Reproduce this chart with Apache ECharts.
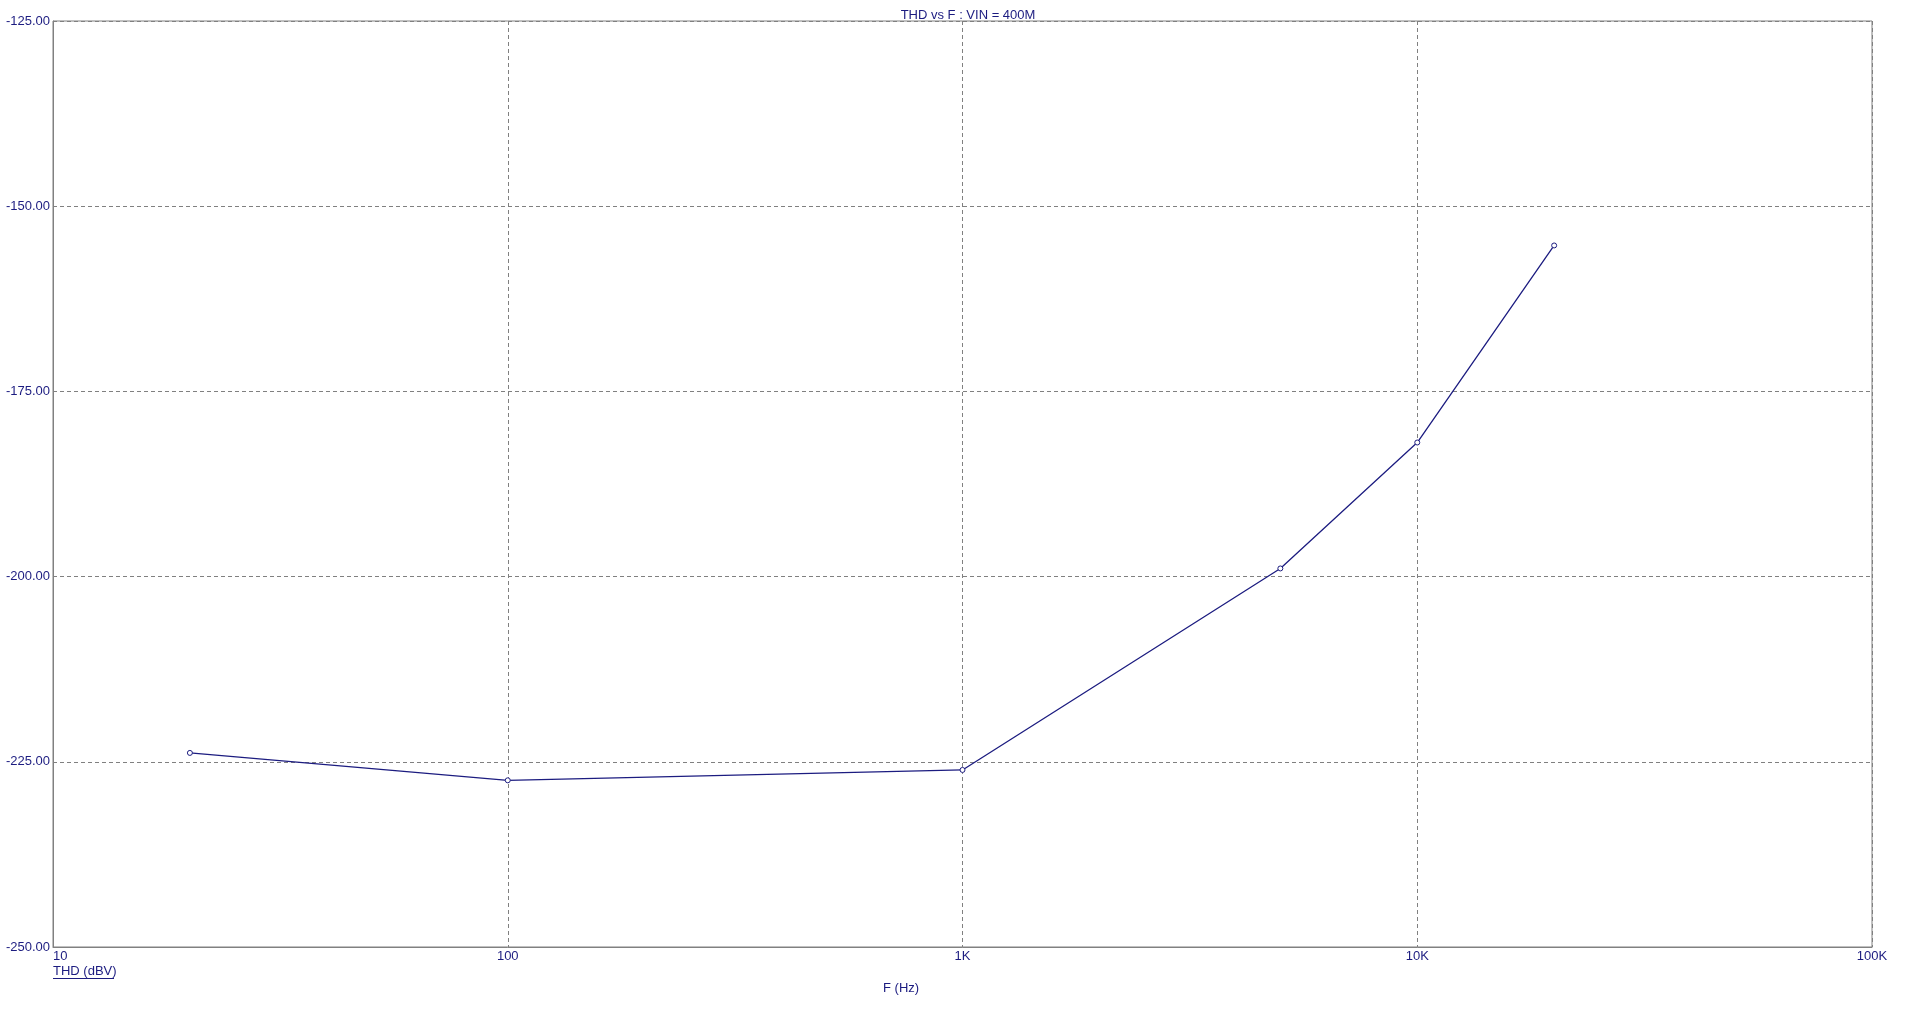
<!DOCTYPE html>
<html>
<head>
<meta charset="utf-8">
<script src="https://cdn.jsdelivr.net/npm/echarts@6/dist/echarts.min.js"></script>
<style>
  html, body { margin: 0; padding: 0; background: #fff; }
  #chart { width: 1907px; height: 1009px; }
</style>
</head>
<body>
<div id="chart"></div>
<script>
// THD vs frequency, log x axis
var freqs = [20, 100, 1000, 5000, 10000, 20000];       // Hz
var thd = [-223.8, -227.5, -226.1, -198.9, -181.9, -155.3]; // dBV
var xTicks = { 10: '10', 100: '100', 1000: '1K', 10000: '10K', 100000: '100K' };

var navy = '#1c1c80';
var font = '"Liberation Sans", Arial, sans-serif';

var chart = echarts.init(document.getElementById('chart'), null, { renderer: 'canvas' });

var points = freqs.map(function (f, i) { return [f, thd[i]]; });

var option = {
  backgroundColor: '#ffffff',
  animation: false,
  title: {
    text: 'THD vs F : VIN = 400M',
    left: 963,
    textAlign: 'center',
    top: 4,
    textStyle: { color: navy, fontFamily: font, fontSize: 13, fontWeight: 'normal' }
  },
  grid: {
    left: 53, right: 35, top: 21, bottom: 62,
    show: true, borderColor: '#808080', borderWidth: 1, backgroundColor: '#ffffff'
  },
  xAxis: {
    type: 'log',
    logBase: 10,
    min: 10,
    max: 100000,
    axisLine: { show: true, lineStyle: { color: '#808080', width: 1 } },
    axisTick: { show: false },
    splitLine: { show: true, lineStyle: { color: '#808080', type: [4, 3], width: 1 } },
    axisLabel: {
      color: navy, fontFamily: font, fontSize: 13, margin: 3,
      alignMinLabel: 'left',
      formatter: function (v) { return xTicks[Math.round(v)] || ''; }
    }
  },
  yAxis: {
    type: 'value',
    min: -250,
    max: -125,
    interval: 25,
    axisLine: { show: true, lineStyle: { color: '#808080', width: 1 } },
    axisTick: { show: false },
    splitLine: { show: true, lineStyle: { color: '#808080', type: [4, 3], width: 1 } },
    axisLabel: {
      color: navy, fontFamily: font, fontSize: 13, margin: 3,
      formatter: function (v) { return v.toFixed(2); }
    }
  },
  graphic: [
    {
      type: 'text', left: 53, top: 965,
      style: { text: 'THD (dBV)', fill: navy, font: '13px ' + font }
    },
    {
      type: 'line', shape: { x1: 53, y1: 978.5, x2: 114, y2: 978.5 },
      style: { stroke: navy, lineWidth: 1 }
    },
    {
      type: 'text', left: 883, top: 982,
      style: { text: 'F (Hz)', fill: navy, font: '13px ' + font }
    }
  ],
  series: [
    {
      name: 'THD',
      type: 'line',
      data: points,
      symbol: 'circle',
      symbolSize: 5,
      showAllSymbol: true,
      lineStyle: { color: navy, width: 1.3 },
      itemStyle: { color: '#ffffff', borderColor: navy, borderWidth: 1 }
    }
  ]
};

chart.setOption(option);
window.addEventListener('resize', function () { chart.resize(); });
</script>
</body>
</html>
